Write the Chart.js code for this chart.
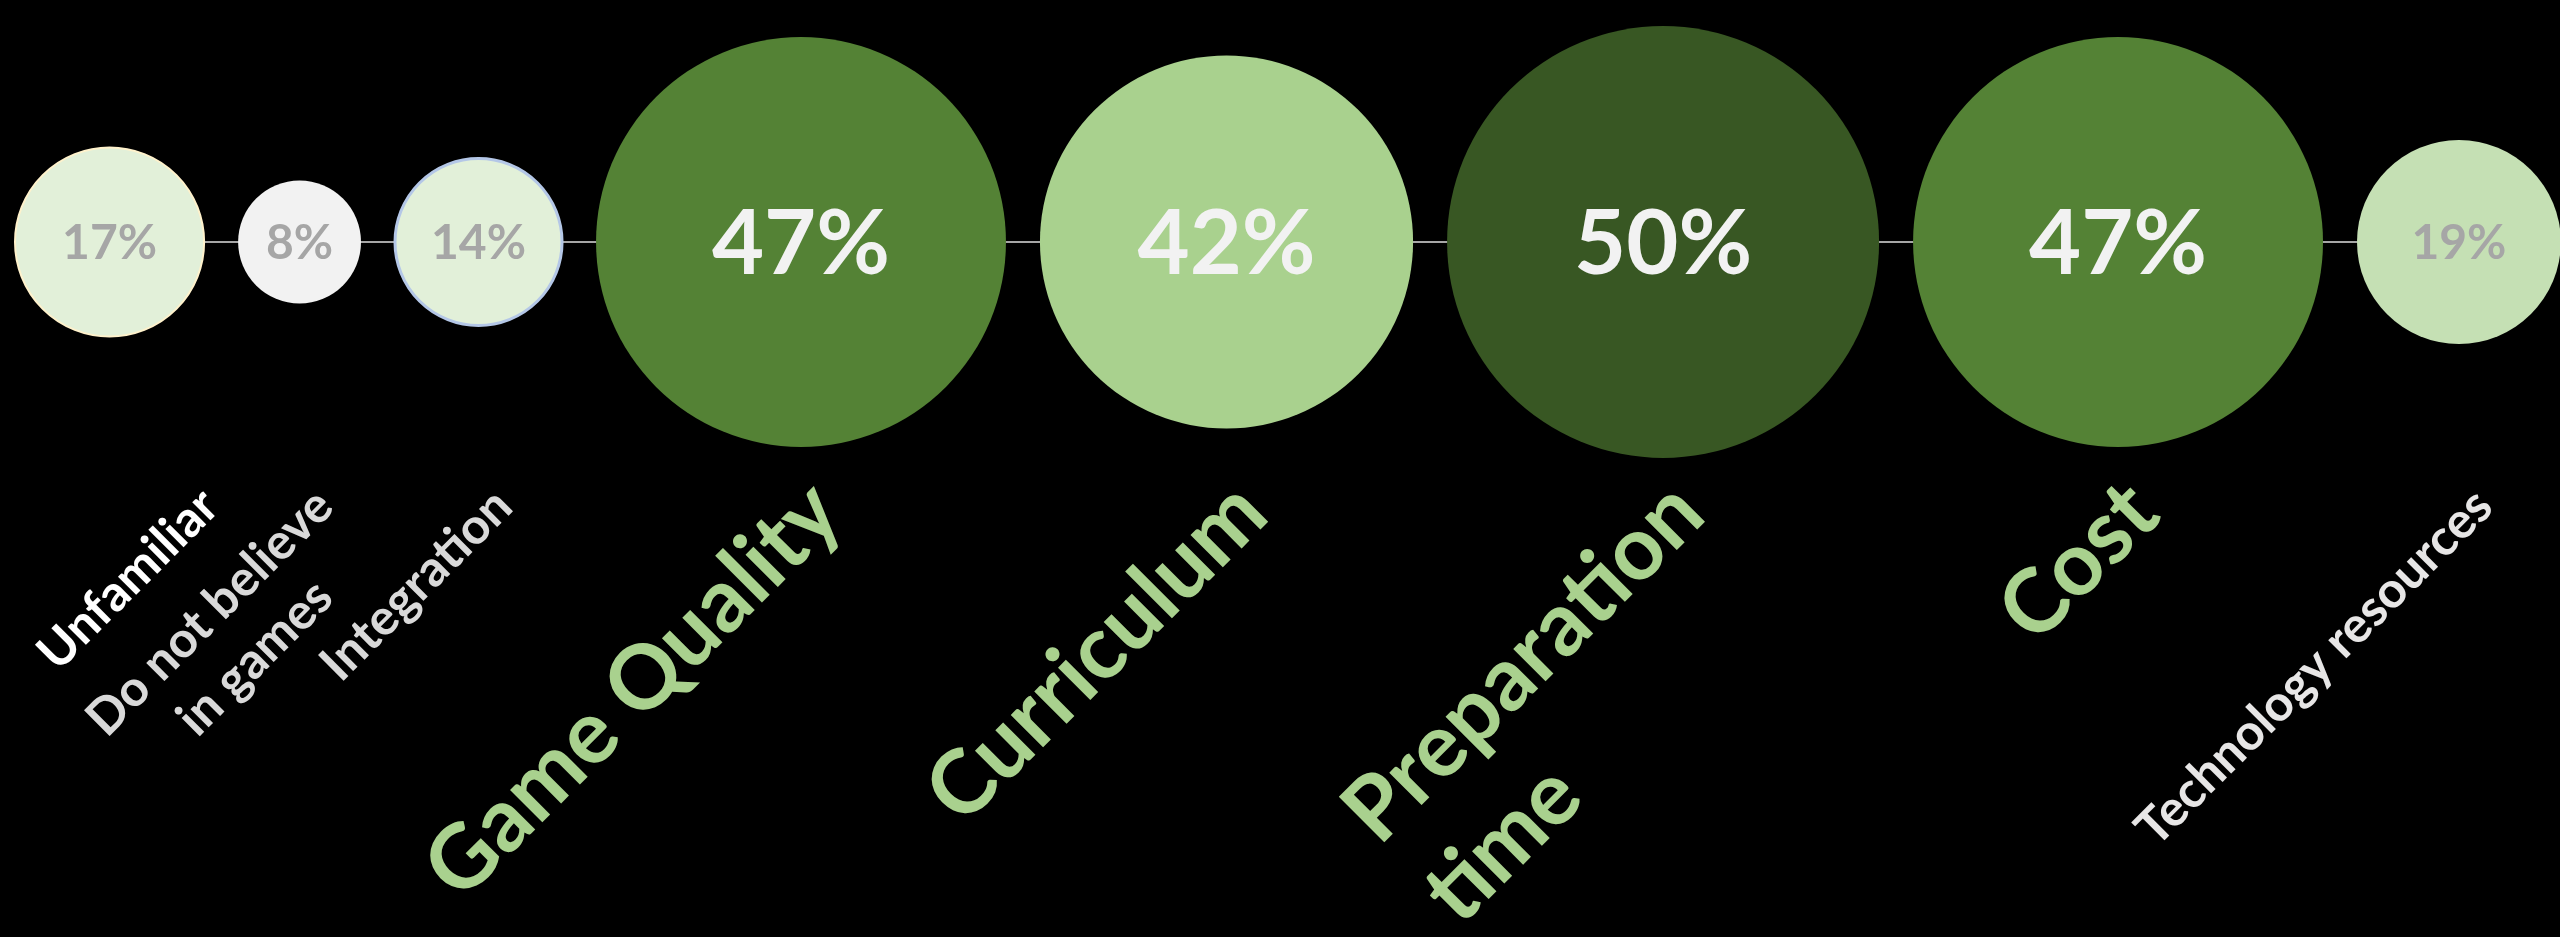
<!DOCTYPE html>
<html>
<head>
<meta charset="utf-8">
<script src="https://cdn.jsdelivr.net/npm/chart.js@4.4.1/dist/chart.umd.min.js"></script>
<style>
  html, body { margin: 0; padding: 0; background: #000; }
  #wrap { width: 2560px; height: 937px; }
</style>
</head>
<body>
<div id="wrap"><canvas id="barriers"></canvas></div>
<script>
// Barriers to using games in class, share of teachers naming each one
const categories = ['Unfamiliar', ['Do not believe', 'in games'], 'Integration', 'Game Quality',
                    'Curriculum', ['Preparation', 'time'], 'Cost', 'Technology resources'];
const percents = [17, 8, 14, 47, 42, 50, 47, 19];

// styles, one per bubble
const fills = ['#e2f0d9', '#f2f2f2', '#e2f0d9', '#548235', '#a9d18e', '#385723', '#548235', '#c5e0b4'];
const borders = ['#fff2cc', '#f2f2f2', '#b4c7e7', '#548235', '#a9d18e', '#385723', '#548235', '#c5e0b4'];
const borderWidths = [2, 0, 3, 0, 0, 0, 0, 0];
const labelColors = ['#ffffff', '#d9d9d9', '#d9d9d9', '#a9d18e', '#a9d18e', '#a9d18e', '#a9d18e', '#e7e6e6'];
const labelAligns = ['center', 'center', 'center', 'center', 'center', 'left', 'center', 'center'];

const W = 2560;
const FONT = 'Lato, "Open Sans", sans-serif';
const BIG = 40; // values from here up get the large text

const radius = v => 32 + 3.68 * v;

// bubbles sit in a row, edge to edge with a fixed gap
const GAP = 34, LEFT = 15;
const points = [];
let edge = LEFT;
percents.forEach(v => {
    const r = radius(v);
    points.push({ x: edge + r, y: 0, r: r });
    edge += 2 * r + GAP;
});

const labelPlugin = {
    id: 'bubbleText',
    afterDatasetsDraw(chart) {
        const { ctx, chartArea } = chart;
        const meta = chart.getDatasetMeta(1);
        const c = Math.SQRT1_2;

        meta.data.forEach((el, i) => {
            const big = percents[i] >= BIG;

            // percentage in the middle of the bubble
            const ps = big ? 90 : 48;
            ctx.save();
            ctx.font = `bold ${ps}px ${FONT}`;
            ctx.fillStyle = big ? '#f2f2f2' : '#a6a6a6';
            ctx.textAlign = 'center';
            ctx.textBaseline = 'alphabetic';
            ctx.fillText(percents[i] + '%', el.x, el.y + ps * 0.36);
            ctx.restore();

            // category name, slanted up to the right under the bubble
            const size = big ? 89 : 50;
            const lh = size * 1.28;
            const lines = [].concat(categories[i]);
            ctx.save();
            ctx.font = `bold ${size}px ${FONT}`;
            const widths = lines.map(t => ctx.measureText(t).width);
            // end of the first line: just right of the bubble centre, never off the left edge
            const ex = Math.max(el.x + 25, widths[0] * c + lh * 0.354 + 24);
            const ey = chartArea.bottom + 14;
            const sx = ex - widths[0] * c;
            const sy = ey + widths[0] * c;
            ctx.fillStyle = labelColors[i];
            ctx.textAlign = 'center';
            ctx.textBaseline = 'middle';
            lines.forEach((t, k) => {
                // centre of line k, measured along the slant from the first line
                const along = labelAligns[i] === 'left' ? widths[k] / 2 : widths[0] / 2;
                const x = sx + along * c + k * lh * c;
                const y = sy - along * c + k * lh * c;
                ctx.save();
                ctx.translate(x, y);
                ctx.rotate(-Math.PI / 4);
                ctx.fillText(t, 0, 0);
                ctx.restore();
            });
            ctx.restore();
        });
    }
};

new Chart(document.getElementById('barriers'), {
    data: {
        datasets: [
            {
                type: 'line',
                data: points.map(p => ({ x: p.x, y: p.y })),
                borderColor: '#a6a6a6',
                borderWidth: 2,
                pointRadius: 0,
                order: 2
            },
            {
                type: 'bubble',
                data: points,
                backgroundColor: fills,
                borderColor: borders,
                borderWidth: borderWidths,
                clip: false,
                order: 1
            }
        ]
    },
    options: {
        responsive: true,
        maintainAspectRatio: false,
        animation: false,
        layout: {
            autoPadding: false,
            padding: { left: 0, right: 0, top: 0, bottom: 453 }
        },
        scales: {
            x: { type: 'linear', min: 0, max: W, display: false },
            y: { type: 'linear', min: -1, max: 1, display: false }
        },
        plugins: {
            legend: { display: false },
            tooltip: { enabled: false }
        }
    },
    plugins: [labelPlugin]
});
</script>
</body>
</html>
